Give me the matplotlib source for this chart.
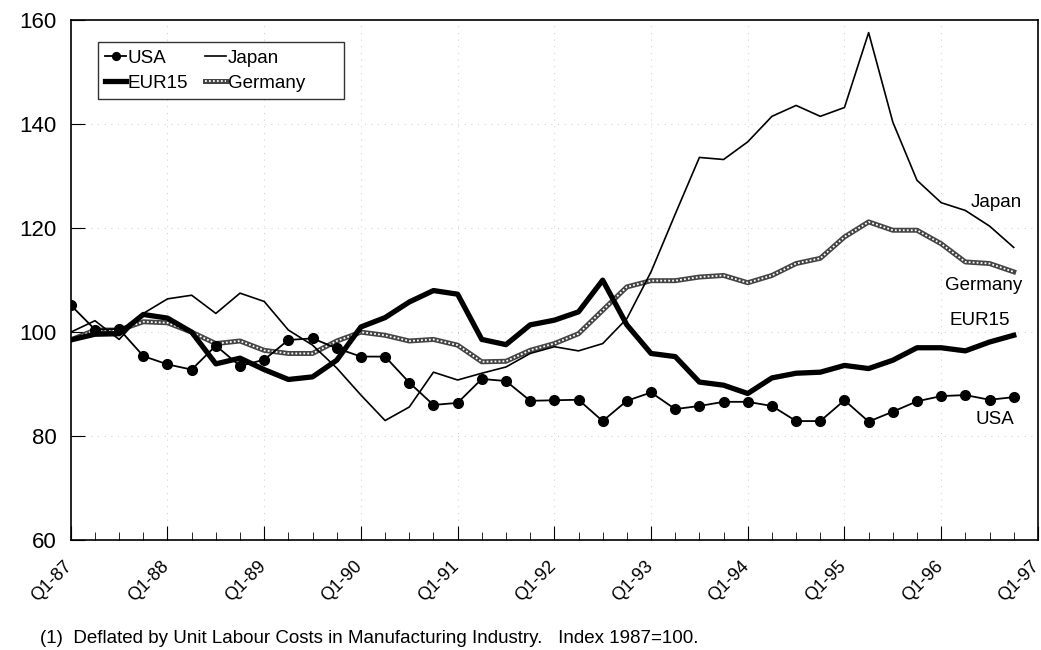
import matplotlib
matplotlib.use('Agg')
import matplotlib.pyplot as plt
from matplotlib.legend_handler import HandlerTuple
from matplotlib.transforms import ScaledTranslation

plt.rcParams['font.family'] = ['Liberation Sans', 'DejaVu Sans']

# quarterly index, Q1-87 .. Q4-96
usa = [105.2, 100.5, 100.6, 95.4, 93.8, 92.8, 97.4, 93.5, 94.7, 98.5,
       98.8, 96.9, 95.3, 95.3, 90.3, 86.0, 86.4, 91.0, 90.6, 86.8,
       86.9, 87.0, 82.9, 86.8, 88.4, 85.2, 85.8, 86.6, 86.6, 85.8,
       82.9, 82.9, 86.9, 82.8, 84.7, 86.7, 87.7, 87.9, 87.0, 87.5]
japan = [100.0, 102.2, 98.6, 103.6, 106.4, 107.1, 103.6, 107.5, 105.9, 100.4,
         97.5, 93.1, 87.9, 83.0, 85.6, 92.3, 90.8, 92.1, 93.3, 95.9,
         97.2, 96.4, 97.8, 102.6, 111.6, 122.7, 133.6, 133.2, 136.6, 141.5,
         143.6, 141.5, 143.2, 157.6, 140.4, 129.2, 124.9, 123.4, 120.4, 116.3]
eur15 = [98.5, 99.6, 99.7, 103.4, 102.7, 100.0, 93.9, 95.0, 92.8, 90.9,
         91.4, 94.6, 101.0, 102.8, 105.8, 108.0, 107.3, 98.6, 97.6, 101.4,
         102.3, 103.9, 110.0, 101.4, 95.9, 95.3, 90.4, 89.8, 88.2, 91.2,
         92.1, 92.3, 93.6, 93.0, 94.6, 97.0, 97.0, 96.4, 98.1, 99.4]
germany = [98.5, 100.4, 100.4, 102.0, 101.8, 100.0, 97.8, 98.3, 96.5, 95.9,
           95.9, 98.3, 100.0, 99.4, 98.3, 98.6, 97.5, 94.3, 94.4, 96.5,
           97.8, 99.7, 104.2, 108.7, 109.9, 109.9, 110.6, 110.9, 109.5, 110.9,
           113.2, 114.2, 118.3, 121.2, 119.6, 119.6, 117.0, 113.5, 113.2, 111.6]
year_labels = ['Q1-87', 'Q1-88', 'Q1-89', 'Q1-90', 'Q1-91', 'Q1-92',
               'Q1-93', 'Q1-94', 'Q1-95', 'Q1-96', 'Q1-97']

x = list(range(len(usa)))

fig = plt.figure(figsize=(10.41, 6.5), dpi=100)
ax = fig.add_axes([0.068, 0.169, 0.929, 0.8])

ax.grid(True, color='#bbbbbb', linestyle=(0, (1, 7)), linewidth=0.6)

l_ger1, = ax.plot(x, germany, color='#444444', lw=3.6)
l_ger2, = ax.plot(x, germany, color='white', lw=1.3, linestyle=(0, (1, 1.2)))
l_jap, = ax.plot(x, japan, color='black', lw=1.2)
l_eur, = ax.plot(x, eur15, color='black', lw=3.8)
l_usa, = ax.plot(x, usa, color='black', lw=1.3, marker='o', ms=7)

ax.set_xlim(0, 40)
ax.set_ylim(60, 160)
ax.set_xticks(range(0, 41, 4))
ax.set_xticklabels(year_labels, rotation=45, ha='right', va='center',
                   rotation_mode='anchor')
ax.set_xticks(range(0, 41), minor=True)
ax.set_yticks([60, 80, 100, 120, 140, 160])
ax.tick_params(axis='both', which='both', direction='in', color='black')
ax.tick_params(axis='x', which='major', length=10, labelsize=13, pad=17)
ax.tick_params(axis='x', which='minor', length=6)
ax.tick_params(axis='y', which='major', length=10, labelsize=16, pad=10)
shift = ScaledTranslation(-0.01, 0, fig.dpi_scale_trans)
for lab in ax.get_xticklabels():
    lab.set_transform(lab.get_transform() + shift)
for s in ax.spines.values():
    s.set_linewidth(1.2)

ax.text(39.33, 125.0, 'Japan', fontsize=13.5, ha='right', va='center')
ax.text(39.37, 109.0, 'Germany', fontsize=13.5, ha='right', va='center')
ax.text(38.83, 102.2, 'EUR15', fontsize=13.5, ha='right', va='center')
ax.text(39.04, 83.2, 'USA', fontsize=13.5, ha='right', va='center')

leg = ax.legend([l_usa, l_eur, l_jap, (l_ger1, l_ger2)],
                ['USA', 'EUR15', 'Japan', 'Germany      '],
                handler_map={tuple: HandlerTuple(ndivide=1)},
                ncol=2, loc='upper left', bbox_to_anchor=(0.028, 0.958),
                fontsize=13.5, handlelength=1.1, handletextpad=0.1,
                columnspacing=0.9, borderpad=0.4, labelspacing=0.42,
                borderaxespad=0, frameon=True, fancybox=False,
                edgecolor='black', markerscale=0.8)
leg.get_frame().set_linewidth(1.0)

fig.text(0.038, 0.011, '(1)  Deflated by Unit Labour Costs in Manufacturing Industry.   Index 1987=100.',
         fontsize=13.5, va='baseline')

plt.savefig('out.png', dpi=100)
